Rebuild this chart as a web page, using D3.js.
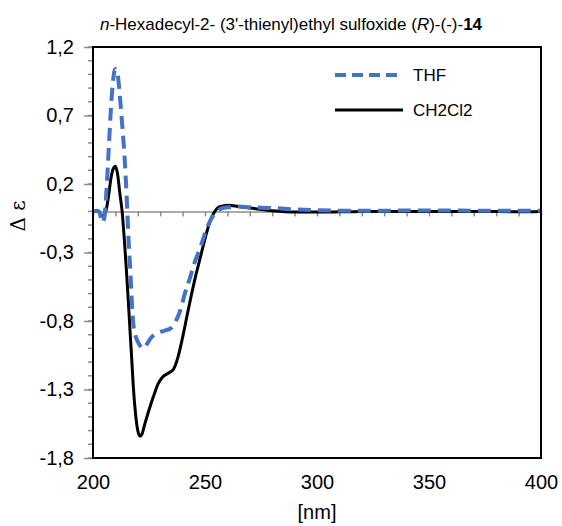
<!DOCTYPE html>
<html>
<head>
<meta charset="utf-8">
<script src="https://cdn.jsdelivr.net/npm/d3@7"></script>
<style>
  body { margin: 0; background: #fff; }
  text { font-family: Arial, "Liberation Sans", sans-serif; }
</style>
</head>
<body>
<svg id="chart"></svg>
<script>
// wavelength (nm) and delta epsilon for each solvent
const thfNm = [200, 202, 203, 204, 205, 206, 207, 208, 209, 210, 211, 212, 213, 214, 215, 216, 216.6, 217.3, 218, 219, 220, 222.5, 224, 226, 228.5, 232, 235, 237, 239, 241, 243.4, 245, 248, 250, 252.3, 254, 256, 258, 260, 265, 270, 280, 290, 300, 320, 340, 360, 380, 400];
const thfEps = [0, 0.005, -0.01, -0.08, -0.05, 0.15, 0.45, 0.75, 0.96, 1.04, 1.0, 0.84, 0.64, 0.42, 0.12, -0.25, -0.41, -0.65, -0.82, -0.91, -0.95, -1.0, -0.97, -0.92, -0.89, -0.87, -0.85, -0.8, -0.72, -0.6, -0.48, -0.39, -0.26, -0.16, -0.07, -0.02, 0.01, 0.025, 0.03, 0.035, 0.03, 0.025, 0.015, 0.008, 0.004, 0.006, 0.006, 0.005, 0.005];

const dcmNm = [200, 202, 203, 204, 205, 206, 207, 208, 209, 210, 211, 212, 213, 214.3, 215, 216, 216.6, 217.3, 218, 219, 220, 221, 222, 223, 225, 227, 229, 231, 233.7, 236, 238, 240, 242, 243.4, 246, 248, 250, 252.3, 254, 256, 258, 260.4, 265, 270, 280, 290, 300, 310, 320, 330, 350, 370, 390, 400];
const dcmEps = [0, 0, -0.01, -0.03, -0.03, 0.02, 0.12, 0.24, 0.31, 0.33, 0.27, 0.13, 0.0, -0.28, -0.45, -0.72, -0.89, -1.08, -1.28, -1.48, -1.6, -1.64, -1.62, -1.56, -1.45, -1.35, -1.26, -1.21, -1.18, -1.15, -1.06, -0.92, -0.76, -0.65, -0.46, -0.33, -0.2, -0.07, -0.01, 0.03, 0.04, 0.045, 0.035, 0.025, 0.005, -0.005, -0.005, -0.003, 0, 0, 0, 0, -0.003, 0];

const xTicks = [200, 250, 300, 350, 400];
const yTicks = [1.2, 0.7, 0.2, -0.3, -0.8, -1.3, -1.8];
const seriesNames = ["THF", "CH2Cl2"];

const width = 562, height = 526;
const margin = {top: 47, right: 21, bottom: 68, left: 93};
const innerW = width - margin.left - margin.right;
const innerH = height - margin.top - margin.bottom;
const fontFamily = 'Arial, "Liberation Sans", sans-serif';

const svg = d3.select('#chart')
    .attr('width', width)
    .attr('height', height);

const chart = svg.append('g')
    .attr('transform', `translate(${margin.left},${margin.top})`);

const xScale = d3.scaleLinear().domain([200, 400]).range([0, innerW]);
const yScale = d3.scaleLinear().domain([-1.8, 1.2]).range([innerH, 0]);

// comma decimals, plain hyphen minus
const locale = d3.formatLocale({decimal: ',', thousands: '.', grouping: [3], currency: ['', ''], minus: '-'});
const fmt = locale.format('.1f');

// left axis with minor ticks every 0.1
const minor = d3.range(-18, 13).map(d => d / 10);
chart.append('g')
    .selectAll('line')
    .data(minor)
    .join('line')
    .attr('x1', -5).attr('x2', 0)
    .attr('y1', d => yScale(d)).attr('y2', d => yScale(d))
    .attr('stroke', '#8c8c8c').attr('stroke-width', 1.5);

const yAxis = d3.axisLeft(yScale)
    .tickValues(yTicks)
    .tickFormat(fmt)
    .tickSize(9)
    .tickPadding(10);

const yAxisGroup = chart.append('g').call(yAxis);
yAxisGroup.select('.domain').remove();
yAxisGroup.selectAll('.tick line').attr('stroke', '#8c8c8c').attr('stroke-width', 1.5);
yAxisGroup.selectAll('.tick text')
    .attr('font-size', 20)
    .attr('fill', '#000')
    .style('font-family', fontFamily);

// bottom tick labels
const xAxis = d3.axisBottom(xScale)
    .tickValues(xTicks)
    .tickFormat(d3.format('d'))
    .tickSize(0)
    .tickPadding(17);

const xAxisGroup = chart.append('g')
    .attr('transform', `translate(0,${innerH})`)
    .call(xAxis);
xAxisGroup.select('.domain').remove();
xAxisGroup.selectAll('.tick text')
    .attr('font-size', 20)
    .attr('fill', '#000')
    .style('font-family', fontFamily);

// zero line with ticks every 10 nm
const zeroAxis = d3.axisBottom(xScale)
    .tickValues(d3.range(200, 401, 10))
    .tickFormat('')
    .tickSize(5)
    .tickSizeOuter(0);
const zeroGroup = chart.append('g')
    .attr('transform', `translate(0,${yScale(0)})`)
    .call(zeroAxis);
zeroGroup.selectAll('path, line').attr('stroke', '#8c8c8c').attr('stroke-width', 1.5);

// data lines
const line = d3.line()
    .x(d => xScale(d[0]))
    .y(d => yScale(d[1]))
    .curve(d3.curveMonotoneX);

chart.append('path')
    .datum(d3.zip(dcmNm, dcmEps))
    .attr('fill', 'none')
    .attr('stroke', '#000')
    .attr('stroke-width', 3)
    .attr('stroke-linejoin', 'round')
    .attr('d', line);

chart.append('path')
    .datum(d3.zip(thfNm, thfEps))
    .attr('fill', 'none')
    .attr('stroke', '#4472C4')
    .attr('stroke-width', 4)
    .attr('stroke-dasharray', '13,7')
    .attr('stroke-linejoin', 'round')
    .attr('d', line);

// frame
chart.append('rect')
    .attr('width', innerW).attr('height', innerH)
    .attr('fill', 'none')
    .attr('stroke', '#000')
    .attr('stroke-width', 2);

// legend
const legend = svg.append('g').attr('transform', 'translate(335,75)');
const legendStyles = [
    {stroke: '#4472C4', width: 4, dash: '11,6'},
    {stroke: '#000', width: 3, dash: null}
];
seriesNames.forEach((name, i) => {
    const g = legend.append('g').attr('transform', `translate(0,${i * 35})`);
    g.append('line')
        .attr('x1', 0).attr('x2', 68)
        .attr('stroke', legendStyles[i].stroke)
        .attr('stroke-width', legendStyles[i].width)
        .attr('stroke-dasharray', legendStyles[i].dash);
    g.append('text')
        .attr('x', 78).attr('y', 6)
        .attr('font-size', 17)
        .text(name);
});

// title
const title = svg.append('text')
    .attr('x', 291).attr('y', 30)
    .attr('text-anchor', 'middle')
    .attr('font-size', 17);
title.append('tspan').attr('font-style', 'italic').text('n');
title.append('tspan').text('-Hexadecyl-2- (3\'-thienyl)ethyl sulfoxide (');
title.append('tspan').attr('font-style', 'italic').text('R');
title.append('tspan').text(')-(-)-');
title.append('tspan').attr('font-weight', 'bold').text('14');

// axis titles
svg.append('text')
    .attr('x', margin.left + innerW / 2).attr('y', 519)
    .attr('text-anchor', 'middle')
    .attr('font-size', 20)
    .text('[nm]');

svg.append('text')
    .attr('transform', 'translate(25,216) rotate(-90)')
    .attr('text-anchor', 'middle')
    .attr('font-size', 20)
    .style('font-family', '"DejaVu Serif", serif')
    .text('Δ ε');
</script>
</body>
</html>
